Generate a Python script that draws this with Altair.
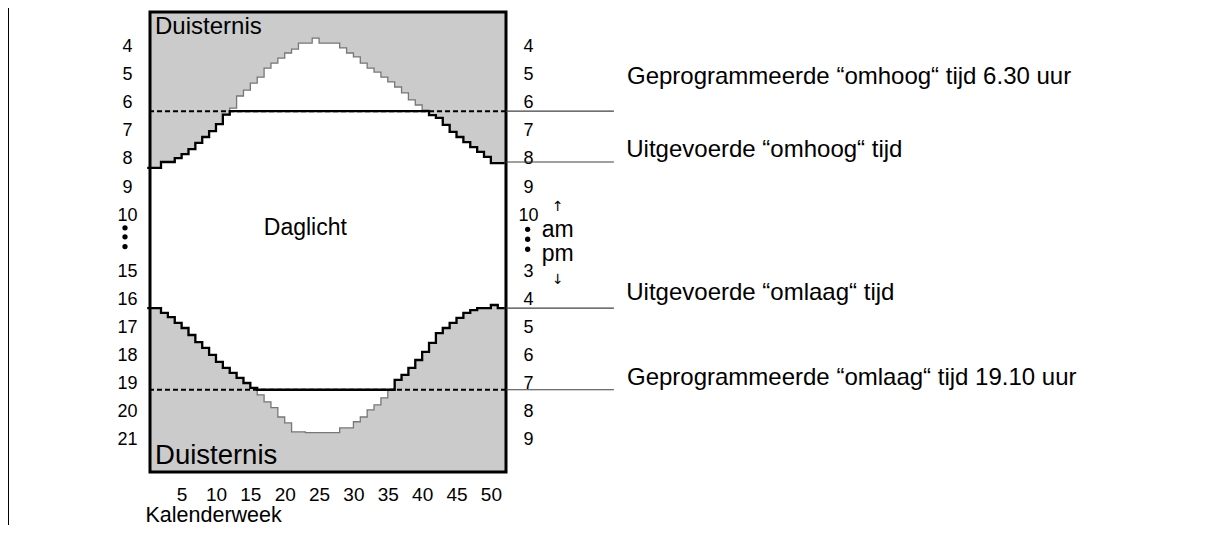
import altair as alt
import pandas as pd

# ---------------- data ----------------
weeks = list(range(1, 53))
# dawn (hours) per calendar week
sunrise = [8.32, 8.32, 8.11, 8.11, 7.97, 7.83, 7.65, 7.43, 7.22, 7.01,
           6.76, 6.42, 6.19, 5.76, 5.55, 5.30, 5.09, 4.77, 4.59, 4.41,
           4.23, 4.09, 3.88, 3.88, 3.70, 3.88, 3.88, 3.88, 4.05, 4.23,
           4.37, 4.59, 4.77, 4.91, 5.09, 5.26, 5.44, 5.65, 5.90, 6.08,
           6.26, 6.44, 6.54, 6.79, 7.04, 7.22, 7.40, 7.58, 7.75, 7.93,
           8.15, 8.15]
# dusk (hours) per calendar week
sunset = [16.31, 16.31, 16.48, 16.63, 16.84, 17.02, 17.27, 17.52, 17.73, 17.98,
          18.23, 18.44, 18.62, 18.80, 18.98, 19.15, 19.40, 19.65, 19.86, 20.19,
          20.40, 20.72, 20.72, 20.75, 20.75, 20.75, 20.75, 20.75, 20.58, 20.58,
          20.36, 20.19, 19.94, 19.76, 19.51, 19.22, 18.87, 18.69, 18.44, 18.16,
          17.87, 17.55, 17.20, 17.02, 16.84, 16.66, 16.48, 16.38, 16.31, 16.31,
          16.20, 16.31]
prog_up = 6.3      # programmed "up" time
prog_down = 19.22  # programmed "down" time

x_ticks = [5, 10, 15, 20, 25, 30, 35, 40, 45, 50]
y_ticks = [4, 5, 6, 7, 8, 9, 10, 15, 16, 17, 18, 19, 20, 21]

ann_labels = ["Geprogrammeerde \u201comhoog\u201c tijd 6.30 uur",
              "Uitgevoerde \u201comhoog\u201c tijd",
              "Uitgevoerde \u201comlaag\u201c tijd",
              "Geprogrammeerde \u201comlaag\u201c tijd 19.10 uur"]
ann_label_week = [69.8, 69.7, 69.7, 69.8]
ann_label_hour = [5.09, 7.68, 15.77, 18.80]
ann_line_hour = [prog_up, 8.11, 16.31, prog_down]
ann_line_from = [52.2, 52.2, 52.2, 52.2]
ann_line_to = [67.9, 67.9, 67.9, 67.9]

zone_left_text = ["Duisternis", "Duisternis"]
zone_left_week = [1.13, 1.13]
zone_left_hour = [3.31, 21.57]
zone_left_size = [24, 27.5]
center_text = ["Daglicht"]
center_week = [23.0]
center_hour = [11.15]

dot_week = [-3.24, -3.24, -3.24, 55.35, 55.35, 55.35]
dot_hour = [11.13, 11.93, 12.80, 11.27, 12.15, 13.04]

ampm_text = ["am", "pm"]
ampm_week = [57.4, 57.4]
ampm_hour = [11.33, 13.46]
arrow_text = ["\u2191", "\u2193"]
arrow_week = [59.76, 59.76]
arrow_hour = [9.72, 15.30]

x_domain = [0.4, 52.2]
y_domain = [2.77, 10, 15, 22.15]
y_range = [0, 203.1, 259.3, 460]

FONT = "Liberation Sans"
GRAY = "#cbcbcb"

# ---------------- scales / axes ----------------
xs = alt.Scale(domain=x_domain, nice=False, zero=False)
ys = alt.Scale(domain=y_domain, range=y_range, nice=False, zero=False)

x_axis = alt.Axis(values=x_ticks, ticks=False, domain=False, grid=False,
                  labelPadding=13, labelFontSize=19, labelFlush=False,
                  labelOverlap=False, title="Kalenderweek", titleFontSize=21.5,
                  titleFontWeight="normal", titleAnchor="start", titleAlign="left",
                  titleX=-5, titleY=49.5, titleBaseline="alphabetic")
left_axis = alt.Axis(values=y_ticks, orient="left", labelAlign="center",
                     labelPadding=23, ticks=False, domain=False, grid=False,
                     labelOverlap=False, labelFontSize=18, title=None)
right_axis = alt.Axis(values=y_ticks, orient="right", labelAlign="center",
                      labelPadding=22, ticks=False, domain=False, grid=False,
                      labelOverlap=False, labelFontSize=18, title=None,
                      labelExpr="datum.value > 12 ? datum.value - 12 : datum.value")

df = pd.DataFrame({"week": weeks, "rise": sunrise, "set": sunset})

base = (alt.Chart(df)
        .transform_calculate(x0="datum.week - 1", x1="datum.week",
                             up=f"max(datum.rise, {prog_up})",
                             down=f"min(datum.set, {prog_down})")
        .transform_fold(["x0", "x1"], as_=["edge", "xpos"])
        .transform_calculate(ord="datum.week * 2 + (datum.edge == 'x1' ? 1 : 0)"))

X = alt.X("xpos:Q", scale=xs, axis=None)

day = base.mark_area(color="white", interpolate="linear").encode(
    x=alt.X("xpos:Q", scale=xs, axis=x_axis),
    y=alt.Y("rise:Q", scale=ys, axis=left_axis),
    y2="set:Q")

rise_line = base.mark_line(color="#777777", strokeWidth=1.3).encode(
    x=X, y=alt.Y("rise:Q", scale=ys, axis=None), order="ord:Q")
set_line = base.mark_line(color="#777777", strokeWidth=1.3).encode(
    x=X, y=alt.Y("set:Q", scale=ys, axis=right_axis), order="ord:Q")

prog = alt.Chart(pd.DataFrame({"t": [prog_up, prog_down]})).mark_rule(
    color="black", strokeWidth=2, strokeDash=[5, 3]).encode(
    y=alt.Y("t:Q", scale=ys, axis=None))

up_line = base.mark_line(color="black", strokeWidth=2.3).encode(
    x=X, y=alt.Y("up:Q", scale=ys, axis=None), order="ord:Q")
down_line = base.mark_line(color="black", strokeWidth=2.3).encode(
    x=X, y=alt.Y("down:Q", scale=ys, axis=None), order="ord:Q")

frame = alt.Chart(alt.Data(values=[{}])).mark_rect(
    fillOpacity=0, stroke="black", strokeWidth=3).encode(
    x=alt.value(0), x2=alt.value(356), y=alt.value(0), y2=alt.value(460))

ann_df = pd.DataFrame({"label": ann_labels, "lw": ann_label_week, "lh": ann_label_hour,
                       "t": ann_line_hour, "a": ann_line_from, "b": ann_line_to})
ann_rules = alt.Chart(ann_df).mark_rule(color="#404040", strokeWidth=1.2).encode(
    x=alt.X("a:Q", scale=xs, axis=None), x2="b:Q",
    y=alt.Y("t:Q", scale=ys, axis=None))
ann_text = alt.Chart(ann_df).mark_text(
    align="left", baseline="middle", fontSize=24, font=FONT, color="black").encode(
    x=alt.X("lw:Q", scale=xs, axis=None), y=alt.Y("lh:Q", scale=ys, axis=None),
    text="label:N")

zone_df = pd.DataFrame({"txt": zone_left_text, "w": zone_left_week,
                        "h": zone_left_hour, "fs": zone_left_size})
zone_text = alt.Chart(zone_df).mark_text(
    align="left", baseline="middle", font=FONT, color="black").encode(
    x=alt.X("w:Q", scale=xs, axis=None), y=alt.Y("h:Q", scale=ys, axis=None),
    text="txt:N", size=alt.Size("fs:Q", scale=None, legend=None))

center_df = pd.DataFrame({"txt": center_text, "w": center_week, "h": center_hour})
day_text = alt.Chart(center_df).mark_text(
    align="center", baseline="middle", fontSize=23, font=FONT, color="black").encode(
    x=alt.X("w:Q", scale=xs, axis=None), y=alt.Y("h:Q", scale=ys, axis=None),
    text="txt:N")

dots = alt.Chart(pd.DataFrame({"w": dot_week, "h": dot_hour})).mark_circle(
    size=28, color="black", opacity=1).encode(
    x=alt.X("w:Q", scale=xs, axis=None), y=alt.Y("h:Q", scale=ys, axis=None))

ampm = alt.Chart(pd.DataFrame({"txt": ampm_text, "w": ampm_week, "h": ampm_hour})).mark_text(
    align="left", baseline="middle", fontSize=23, font=FONT, color="black").encode(
    x=alt.X("w:Q", scale=xs, axis=None), y=alt.Y("h:Q", scale=ys, axis=None),
    text="txt:N")
arrows = alt.Chart(pd.DataFrame({"txt": arrow_text, "w": arrow_week, "h": arrow_hour})).mark_text(
    align="center", baseline="middle", fontSize=14, font="DejaVu Sans", color="black").encode(
    x=alt.X("w:Q", scale=xs, axis=None), y=alt.Y("h:Q", scale=ys, axis=None),
    text="txt:N")

edge = alt.Chart(alt.Data(values=[{}])).mark_rule(color="black", strokeWidth=1).encode(
    x=alt.value(-141.5), y=alt.value(-4), y2=alt.value(513))

chart = (alt.layer(day, rise_line, set_line, prog, up_line, down_line, frame,
                   ann_rules, ann_text, zone_text, day_text, dots, ampm, arrows, edge)
         .resolve_scale(x="shared", y="shared")
         .resolve_axis(x="independent", y="independent")
         .properties(width=356, height=460, background="white",
                     autosize=alt.AutoSizeParams(type="none"),
                     padding={"left": 142, "top": 4, "right": 700, "bottom": 53})
         .configure_view(fill=GRAY, strokeWidth=0)
         .configure_axis(labelFont=FONT, titleFont=FONT, labelColor="black",
                         titleColor="black"))

chart.save("out.html", embed_options={"renderer": "svg", "actions": False})
